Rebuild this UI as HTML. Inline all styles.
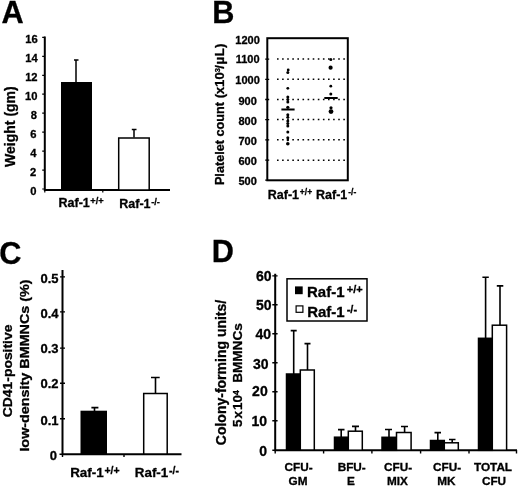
<!DOCTYPE html>
<html>
<head>
<meta charset="utf-8">
<title>Figure</title>
<style>
html,body{margin:0;padding:0;background:#fff;}
body{width:520px;height:487px;overflow:hidden;}
svg{display:block;filter:grayscale(1);}
text{font-family:"Liberation Sans",sans-serif;font-weight:bold;fill:#000;stroke:#000;stroke-width:0.3px;}
.pl{font-size:30.7px;}
.t11{font-size:11px;}
.t12{font-size:12.5px;}
.t13{font-size:13px;}
.t14{font-size:14px;}
.t15{font-size:15px;}
.e{text-anchor:end;}
.m{text-anchor:middle;}
.ln{stroke:#000;fill:none;}
</style>
</head>
<body>
<svg width="520" height="487" viewBox="0 0 520 487">
<rect x="0" y="0" width="520" height="487" fill="#fff"/>

<!-- ================= PANEL A ================= -->
<g id="pA">
<text class="pl" x="1.4" y="23.2">A</text>
<text class="t14 m" transform="translate(14.6,126.6) rotate(-90)">Weight (gm)</text>
<g class="e" font-size="11.2">
<text x="37.7" y="42.9">16</text>
<text x="37.7" y="61.9">14</text>
<text x="37.6" y="80.9">12</text>
<text x="37.4" y="99.9">10</text>
<text x="36.9" y="118.9">8</text>
<text x="36.5" y="137.9">6</text>
<text x="36.4" y="156.9">4</text>
<text x="36.3" y="175.9">2</text>
<text x="36.4" y="194.9">0</text>
</g>
<path class="ln" stroke-width="2" d="M44.8,36.6 V190 H170"/>
<path class="ln" stroke-width="1.2" d="M42.2,37.4H45 M42.2,56.3H45 M42.2,75.3H45 M42.2,94.2H45 M42.2,113.2H45 M42.2,132.2H45 M42.2,151.1H45 M42.2,170.1H45 M42.2,189.0H45 M44.8,190V192.5 M102.8,190V192.5"/>
<rect x="61" y="82" width="31" height="108" fill="#000"/>
<path class="ln" stroke-width="1.5" d="M76,82V60 M74,60H78.5"/>
<rect x="118.7" y="138" width="30.5" height="52" fill="#fff" stroke="#000" stroke-width="1.5"/>
<path class="ln" stroke-width="1.5" d="M134,137.5V129.5 M131.8,129.5H136.5"/>
<text class="t12" x="58.5" y="207">Raf-1<tspan font-size="9.3" dx="0.6" dy="-3.4">+/+</tspan></text>
<text class="t12" x="119.3" y="208">Raf-1<tspan font-size="9.3" dx="0.6" dy="-3.4">-/-</tspan></text>
</g>

<!-- ================= PANEL B ================= -->
<g id="pB">
<text class="pl" x="212.3" y="23">B</text>
<text font-size="12.7" transform="translate(224.2,185.1) rotate(-90)">Platelet count</text>
<text class="e" font-size="13.2" transform="translate(224.4,43.6) rotate(-90)"><tspan dx="0">(</tspan><tspan dx="-0.5">x10</tspan><tspan font-size="7.5" dy="-4.2">3</tspan><tspan dy="4.2" dx="-0.6">/</tspan><tspan dx="0.5">µ</tspan><tspan dx="0.5">L</tspan><tspan dx="0.3">)</tspan></text>
<g class="t11 m">
<text x="247.6" y="44.4">1200</text>
<text x="247.6" y="63">1100</text>
<text x="247.6" y="84.1">1000</text>
<text x="247.6" y="105.4">900</text>
<text x="247.6" y="124.7">800</text>
<text x="247.6" y="144.7">700</text>
<text x="247.6" y="164.9">600</text>
<text x="247.6" y="184.8">500</text>
</g>
<g class="ln" stroke-width="1.5" stroke-dasharray="1.6 3.5">
<path d="M277,59.1H346"/><path d="M277,79.3H346"/><path d="M277,99.5H346"/><path d="M277,119.6H346"/><path d="M277,139.8H346"/><path d="M277,160.2H346"/>
</g>
<path class="ln" stroke-width="1.3" d="M265.2,59.1H269.2 M265.2,79.3H269.2 M265.2,99.5H269.2 M265.2,119.6H269.2 M265.2,139.8H269.2 M265.2,160.2H269.2"/>
<rect class="ln" x="267.3" y="38.2" width="80.5" height="142.1" stroke-width="2"/>
<path class="ln" stroke-width="1.3" d="M265.2,180.2H267"/>
<!-- column 1 points -->
<g fill="#000">
<circle cx="288.2" cy="70" r="1.4"/><circle cx="287.8" cy="72.6" r="1.5"/>
<circle cx="287.8" cy="88.3" r="1.4"/>
<circle cx="287.8" cy="97.1" r="1.5"/><circle cx="287.8" cy="99.5" r="1.5"/><circle cx="287.8" cy="102" r="1.5"/>
<circle cx="287.8" cy="107.3" r="1.6"/>
<circle cx="287.8" cy="114.7" r="1.5"/><circle cx="287.8" cy="117.3" r="1.5"/>
<circle cx="287.8" cy="121" r="1.5"/><circle cx="287.8" cy="123.4" r="1.5"/><circle cx="287.8" cy="126" r="1.5"/>
<circle cx="287.8" cy="132" r="1.5"/><circle cx="287.8" cy="137.7" r="1.5"/><circle cx="287.8" cy="140" r="1.2"/>
<circle cx="287.8" cy="143.8" r="1.8"/>
<rect x="281.4" y="108.5" width="13.2" height="2"/>
<!-- column 2 points -->
<circle cx="330.8" cy="59.4" r="1.5"/>
<circle cx="330.6" cy="67.7" r="2.1"/>
<circle cx="330.8" cy="86.2" r="1.4"/>
<circle cx="330.8" cy="94" r="1.5"/>
<circle cx="331" cy="107.8" r="1.6"/>
<circle cx="331" cy="111.6" r="2.4"/>
<rect x="324.3" y="97" width="13.4" height="2"/>
</g>
<text class="t12" x="267.8" y="198.6">Raf-1<tspan font-size="8.5" dx="0.8" dy="-3.2">+/+</tspan></text>
<text class="t12" x="316" y="198.6">Raf-1<tspan font-size="8.5" dx="1" dy="-3.2">-/-</tspan></text>
</g>

<!-- ================= PANEL C ================= -->
<g id="pC">
<text class="pl" x="-0.8" y="263.5">C</text>
<text class="m" font-size="12.7" transform="translate(12.4,370.9) rotate(-90) scale(1.095,1)">CD41-positive</text>
<text class="m" font-size="13" transform="translate(28.9,365.5) rotate(-90) scale(1.105,1)">low-density BMMNCs (%)</text>
<g class="t13 e">
<text x="58.5" y="282.8">0.5</text>
<text x="58.5" y="317.9">0.4</text>
<text x="58.5" y="353.3">0.3</text>
<text x="58.5" y="388.2">0.2</text>
<text x="58.5" y="424.5">0.1</text>
<text x="56.9" y="460.3">0</text>
</g>
<path class="ln" stroke-width="2" d="M62.5,270 V454.3 H181.5"/>
<path class="ln" stroke-width="1.4" d="M60,276.9H65 M60,311.9H65 M60,348.1H65 M60,383.2H65 M60,418.8H65 M59.5,454.3H63 M62.5,454V457 M124,454V457"/>
<rect x="80.5" y="410.7" width="26.5" height="44" fill="#000"/>
<path class="ln" stroke-width="1.6" d="M94.5,411V407.6 M91.4,407.6H98.4"/>
<rect x="143.7" y="393.5" width="23.5" height="60.5" fill="#fff" stroke="#000" stroke-width="1.5"/>
<path class="ln" stroke-width="1.6" d="M155.5,393V377.5 M151,377.5H159.7"/>
<text font-size="13.4" x="70.2" y="476.8">Raf-1<tspan font-size="10.5" dx="0.8" dy="-3.2">+/+</tspan></text>
<text font-size="13.4" x="134.8" y="476.8">Raf-1<tspan font-size="10.5" dx="0.8" dy="-3.2">-/-</tspan></text>
</g>

<!-- ================= PANEL D ================= -->
<g id="pD">
<text class="pl" x="211.7" y="261.6">D</text>
<text class="t14 m" transform="translate(225.5,372.5) rotate(-90)">Colony-forming units/</text>
<text font-size="13.4" transform="translate(242.4,427) rotate(-90)">5<tspan dx="1.1">x</tspan><tspan dx="1">10</tspan><tspan font-size="8.6" dx="0.1" dy="-3.5">4</tspan></text>
<text class="e" font-size="13.6" transform="translate(242.4,323.2) rotate(-90)">BMMNCs</text>
<g class="t14 e">
<text x="271.5" y="280.6">60</text>
<text x="271.5" y="309.7">50</text>
<text x="271" y="338.7">40</text>
<text x="268.5" y="369.3">30</text>
<text x="267.7" y="396.4">20</text>
<text x="267" y="425.7">10</text>
<text x="267" y="456">0</text>
</g>
<path class="ln" stroke-width="2" d="M275.2,273.7 V450.3 H517"/>
<path class="ln" stroke-width="1.4" d="M272.3,275.9H277.6 M272.3,304.8H277.6 M272.3,333.8H277.6 M272.3,362.8H277.6 M272.3,391.7H277.6 M272.3,420.8H277.6 M272.3,450.3H276 M275.2,450V453.5 M323.6,450V453.5 M371.9,450V453.5 M420.6,450V453.5 M469,450V453.5 M516.5,450V453.5"/>
<!-- legend -->
<rect x="287" y="278.8" width="80" height="42.2" fill="#fff" stroke="#000" stroke-width="1.5"/>
<rect x="295" y="286.4" width="7.7" height="7.8" fill="#000"/>
<rect x="296.1" y="305.9" width="6.8" height="6.4" fill="#fff" stroke="#000" stroke-width="1.2"/>
<text class="t15" x="307" y="296.7">Raf-1<tspan font-size="11" dx="2.2" dy="-3.7">+/+</tspan></text>
<text class="t15" x="307.2" y="316.8">Raf-1<tspan font-size="11" dx="2" dy="-3.7">-/-</tspan></text>
<!-- bars -->
<g stroke="#000" stroke-width="1.5">
<rect x="286.5" y="374" width="13.8" height="76" fill="#000"/>
<rect x="300.3" y="370" width="14" height="80" fill="#fff"/>
<rect x="334.5" y="437.2" width="13.8" height="13" fill="#000"/>
<rect x="348.3" y="431.2" width="14" height="19" fill="#fff"/>
<rect x="382" y="437.3" width="14.5" height="13" fill="#000"/>
<rect x="396.5" y="432.5" width="14.6" height="17.7" fill="#fff"/>
<rect x="430.5" y="440.5" width="13.8" height="9.7" fill="#000"/>
<rect x="444.3" y="442.8" width="14" height="7.4" fill="#fff"/>
<rect x="478.5" y="338.3" width="13.8" height="112" fill="#000"/>
<rect x="492.3" y="325.2" width="14.3" height="125" fill="#fff"/>
</g>
<path class="ln" stroke-width="1.6" d="M293.7,374V330.6 M290.7,330.6H296.7 M307.5,370V343.6 M304.5,343.6H310.5
M341.2,437V429.6 M338,429.6H344.5 M355.5,431V426.4 M352,426.4H359
M389,437V429.5 M385,429.5H392 M404.6,432.5V426.5 M401,426.5H408
M437.8,440.5V432.6 M434.5,432.6H441 M452.2,442.8V439.5 M449,439.5H455.5
M485.6,338V277.2 M482.4,277.2H488.8 M500,325V285.9 M496.8,285.9H503.3"/>
<g class="t11 m">
<text transform="translate(298.6,470.8) scale(1.07,1)">CFU-</text><text transform="translate(298.0,485.3) scale(1.07,1)">GM</text>
<text transform="translate(351.7,470.8) scale(1.07,1)">BFU-</text><text transform="translate(351.0,485.3) scale(1.07,1)">E</text>
<text transform="translate(398.0,470.8) scale(1.07,1)">CFU-</text><text transform="translate(397.5,485.3) scale(1.07,1)">MIX</text>
<text transform="translate(447.0,470.8) scale(1.07,1)">CFU-</text><text transform="translate(446.4,485.3) scale(1.07,1)">MK</text>
<text transform="translate(493.0,470.8) scale(1.07,1)">TOTAL</text><text transform="translate(494.0,485.3) scale(1.07,1)">CFU</text>
</g>
</g>
</svg>
</body>
</html>
